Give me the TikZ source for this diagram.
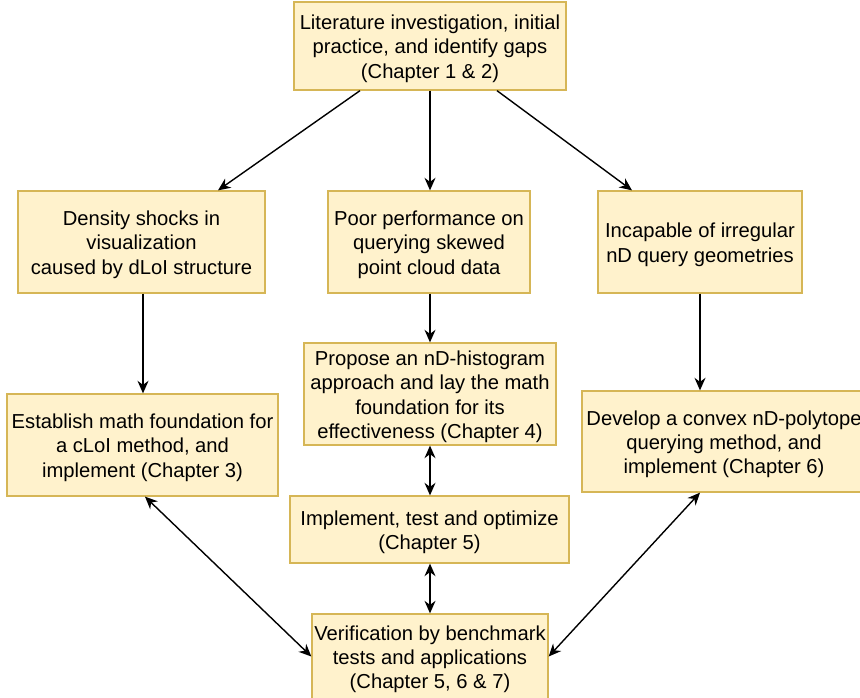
\documentclass[tikz,border=0pt]{standalone}
\usepackage{fontspec}
\setmainfont{Liberation Sans}
\usetikzlibrary{arrows.meta,calc}
\definecolor{boxfill}{HTML}{FFF2CC}
\definecolor{boxdraw}{HTML}{D6B656}
\newcommand\fl{\rule{0pt}{20pt}}
\begin{document}
\begin{tikzpicture}[x=1pt,y=-1pt,
  box/.style={rectangle,draw=boxdraw,fill=boxfill,line width=1.3pt,align=center,inner sep=0pt,
    font=\fontsize{20.2}{24.3}\selectfont},
  arr/.style={line width=1.4pt,-{Stealth[length=12.5pt,width=11pt]}},
  darr/.style={line width=1.4pt,{Stealth[length=12.5pt,width=11pt]}-{Stealth[length=12.5pt,width=11pt]}}]
\useasboundingbox (0,0) rectangle (860,698);
\node[box,minimum width=272pt,minimum height=88pt] (top) at (430,46) {\fl Literature investigation, initial\\practice, and identify gaps\\(Chapter 1 \& 2)};
\node[box,minimum width=247pt,minimum height=102pt] (l1) at (141.5,242) {\fl Density shocks in\\visualization\\caused by dLoI structure};
\node[box,minimum width=202pt,minimum height=102pt] (m1) at (429,242) {\fl Poor performance on\\querying skewed\\point cloud data};
\node[box,minimum width=204pt,minimum height=102pt] (r1) at (700,242) {\fl Incapable of irregular\\nD query geometries};
\node[box,minimum width=271pt,minimum height=102pt] (l2) at (142.5,445) {\fl Establish math foundation for\\a cLoI method, and\\implement (Chapter 3)};
\node[box,minimum width=252pt,minimum height=102pt] (m2) at (430,394) {\fl Propose an nD-histogram\\approach and lay the math\\foundation for its\\effectiveness (Chapter 4)};
\node[box,minimum width=284pt,minimum height=101pt] (r2) at (724,441.5) {\fl Develop a convex nD-polytope\\querying method, and\\implement (Chapter 6)};
\node[box,minimum width=279pt,minimum height=67pt] (m3) at (429.5,529.5) {\fl Implement, test and optimize\\(Chapter 5)};
\node[box,minimum width=236pt,minimum height=85pt] (b) at (430,656.5) {\fl Verification by benchmark\\tests and applications\\(Chapter 5, 6 \& 7)};
\draw[arr] ([xshift=-70pt]top.south) -- ([xshift=76.5pt]l1.north);
\draw[arr] (top.south) -- (top.south |- m1.north);
\draw[arr] ([xshift=67pt]top.south) -- ([xshift=-68pt]r1.north);
\draw[arr] ([xshift=1.5pt]l1.south) -- ([xshift=1.5pt]l1.south |- l2.north);
\draw[arr] ([xshift=1pt]m1.south) -- ([xshift=1pt]m1.south |- m2.north);
\draw[arr] (r1.south) -- (r1.south |- r2.north);
\draw[darr] (m2.south) -- (m2.south |- m3.north);
\draw[darr] (m3.south -| b.north) -- (b.north);
\draw[darr] ([xshift=2.5pt]l2.south) -- (b.west);
\draw[darr] ([xshift=-24pt]r2.south) -- (b.east);
\end{tikzpicture}
\end{document}
